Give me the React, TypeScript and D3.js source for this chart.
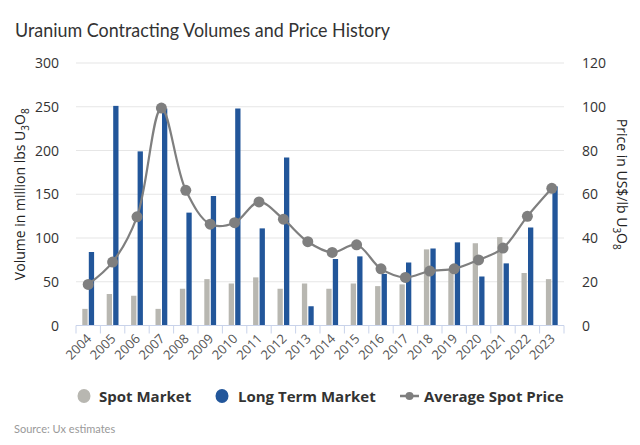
import React from "react";
import * as d3 from "d3";

const years = ["2004","2005","2006","2007","2008","2009","2010","2011","2012","2013","2014","2015","2016","2017","2018","2019","2020","2021","2022","2023"];
const spotMarket = [19, 36, 34, 19, 42, 53, 48, 55, 42, 48, 42, 48, 45, 47, 87, 63, 94, 101, 60, 53];
const longTermMarket = [84, 251, 199, 248, 129, 148, 248, 111, 192, 22, 76, 79, 59, 72, 88, 95, 56, 71, 112, 159];
const avgSpotPrice = [18.8, 29, 49.7, 99.4, 61.8, 46.3, 47, 56.5, 48.6, 38.3, 33.4, 36.9, 25.9, 22, 24.9, 25.9, 30, 35.4, 49.9, 62.7];
const leftTicks = [0, 50, 100, 150, 200, 250, 300];
const rightTicks = [0, 20, 40, 60, 80, 100, 120];

const W = 640, H = 445;
const m = { left: 76, right: 564, top: 63, bottom: 325.5 };
const BLUE = "#22569a";
const GRAY = "#b8b7b1";
const LINE = "#7f7f7f";
const FONT = "'Open Sans', 'DejaVu Sans', sans-serif";

export default function App() {
  const x = d3.scaleBand().domain(years).range([m.left, m.right]).paddingInner(0).paddingOuter(0);
  const yL = d3.scaleLinear().domain([0, 300]).range([m.bottom, m.top]);
  const yR = d3.scaleLinear().domain([0, 120]).range([m.bottom, m.top]);
  const bw = 5.3;
  const cx = (yr: string) => (x(yr) as number) + x.bandwidth() / 2;
  const line = d3.line<number>().x((_, i) => cx(years[i])).y((d) => yR(d)).curve(d3.curveCatmullRom.alpha(0.5));

  return (
    <svg width={W} height={H} style={{ position: "absolute", left: 0, top: 0, background: "#fff" }} fontFamily={FONT}>
      <text x={15} y={37} fontSize={19} fill="#333" fontWeight={400} fontFamily="Lato, 'Open Sans', sans-serif" textLength={375} lengthAdjust="spacingAndGlyphs">Uranium Contracting Volumes and Price History</text>
      {leftTicks.map((t) => (
        <g key={"g" + t}>
          {t > 0 && <line x1={m.left} x2={m.right} y1={yL(t)} y2={yL(t)} stroke="#e6e6e6" strokeWidth={1.2} />}
          <text x={59} y={yL(t) + 5} fontSize={14} fill="#333" textAnchor="end">{t}</text>
        </g>
      ))}
      {rightTicks.map((t) => (
        <text key={"r" + t} x={582} y={yR(t) + 5} fontSize={14} fill="#333" textAnchor="start">{t}</text>
      ))}
      <text transform={`translate(25,${(m.top + m.bottom) / 2}) rotate(-90)`} textAnchor="middle" fontSize={14} fill="#222">
        Volume in million lbs U<tspan fontSize={10} dy={4}>3</tspan><tspan dy={-4}>O</tspan><tspan fontSize={10} dy={4}>8</tspan>
      </text>
      <text transform={`translate(617,${(m.top + m.bottom) / 2 - 10}) rotate(90)`} textAnchor="middle" fontSize={14} fill="#222">
        Price in US$/lb U<tspan fontSize={10} dy={4}>3</tspan><tspan dy={-4}>O</tspan><tspan fontSize={10} dy={4}>8</tspan>
      </text>
      {years.map((yr, i) => (
        <g key={yr}>
          <rect x={cx(yr) - 0.6 - bw} y={yL(spotMarket[i])} width={bw} height={m.bottom - yL(spotMarket[i])} fill={GRAY} />
          <rect x={cx(yr) + 0.6} y={yL(longTermMarket[i])} width={bw} height={m.bottom - yL(longTermMarket[i])} fill={BLUE} />
        </g>
      ))}
      <line x1={m.left} x2={m.right} y1={m.bottom} y2={m.bottom} stroke="#c9d3ea" strokeWidth={1} />
      {years.map((yr) => (
        <line key={"t" + yr} x1={x(yr) as number} x2={x(yr) as number} y1={m.bottom} y2={m.bottom + 8} stroke="#c9d3ea" />
      ))}
      <line x1={m.right} x2={m.right} y1={m.bottom} y2={m.bottom + 8} stroke="#c9d3ea" />
      {years.map((yr) => (
        <text key={"l" + yr} transform={`translate(${cx(yr) + 4},${m.bottom + 14}) rotate(-45)`} textAnchor="end" fontSize={13} fill="#555">{yr}</text>
      ))}
      <path d={line(avgSpotPrice) || ""} fill="none" stroke={LINE} strokeWidth={2.2} />
      {avgSpotPrice.map((p, i) => (
        <circle key={"c" + i} cx={cx(years[i])} cy={yR(p)} r={5.5} fill={LINE} />
      ))}
      <g fontSize={15} fontWeight={700} fill="#333">
        <ellipse cx={84} cy={396} rx={6.5} ry={7} fill={GRAY} />
        <text x={99} y={401.5}>Spot Market</text>
        <ellipse cx={222} cy={396} rx={6.5} ry={7} fill={BLUE} />
        <text x={238} y={401.5}>Long Term Market</text>
        <line x1={400} x2={419} y1={396} y2={396} stroke={LINE} strokeWidth={2.5} />
        <circle cx={409.5} cy={396} r={4} fill={LINE} />
        <text x={424} y={401.5}>Average Spot Price</text>
      </g>
      <text x={14} y={433} fontSize={11} fill="#999" fontFamily="Lato, 'Open Sans', sans-serif">Source: Ux estimates</text>
    </svg>
  );
}
